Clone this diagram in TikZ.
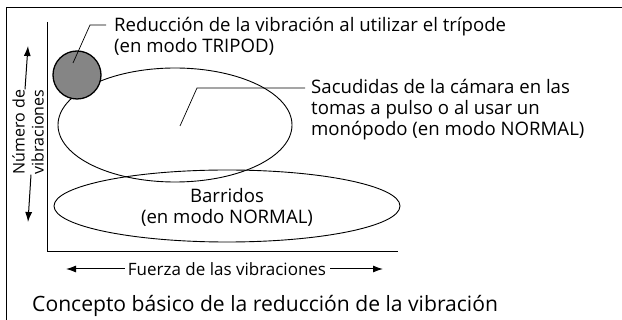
\documentclass[tikz,border=0pt]{standalone}
\usepackage{fontspec}
\setmainfont{Open Sans}
\usetikzlibrary{positioning, arrows.meta, shapes.geometric}

\begin{document}
\begin{tikzpicture}[
    x=1pt, y=-1pt,
    % text styles
    lbl/.style={font=\fontsize{18.6}{21}\selectfont, align=left, inner sep=0pt},
    caption/.style={font=\fontsize{21.1}{24}\selectfont, inner sep=0pt},
    % shapes
    zone/.style={draw, ellipse, line width=0.9pt, inner sep=0pt},
    tripodzone/.style={draw, circle, line width=1.3pt, fill=black!48, inner sep=0pt, minimum size=48pt},
    % lines
    leader/.style={line width=0.7pt},
    axis/.style={line width=0.9pt},
    axarrow/.style={-{Latex[length=10pt, width=7pt]}, line width=1pt},
]
\useasboundingbox (0,0) rectangle (622,320);

% --- frame (open to the right and bottom) ---
\draw[line width=0.9pt] (622,7) -| (6,320);

% --- axes ---
\coordinate (ytop) at (47,22);
\coordinate (origin) at (47,251);
\coordinate (xend) at (398,251);
\draw[axis] (ytop) -- (origin) -- (xend);

% --- vibration zones ---
\node[zone, minimum width=346pt, minimum height=72pt] (pan) at (227,206) {};
\node[zone, minimum width=234pt, minimum height=114pt] (handheld) at (175,125) {};
\node[tripodzone] (tripod) at (77,75) {};

% --- zone texts ---
\node[lbl, align=center] (pantext) at (227,207) {Barridos\\(en modo NORMAL)};

\node[lbl, anchor=west] (tripodtext) at (114,36)
    {Reducción de la vibración al utilizar el trípode\\(en modo TRIPOD)};
\node[lbl, anchor=west] (handtext) at (311,110)
    {Sacudidas de la cámara en las\\tomas a pulso o al usar un\\monópodo (en modo NORMAL)};

% --- leader lines ---
\coordinate (tripodpt) at (73,63);
\coordinate (tripodknee) at (90,25);
\coordinate (tripodend) at (106,25);
\draw[leader] (tripodpt) -- (tripodknee) -- (tripodend);

\coordinate (handpt) at (180,126);
\coordinate (handknee) at (197,88);
\coordinate (handend) at (305,88);
\draw[leader] (handpt) -- (handknee) -- (handend);

% --- y axis label ---
\node[lbl, font=\fontsize{16}{19}\selectfont, align=center, rotate=90] (ylabel) at (28,132) {Número de\\vibraciones};
\coordinate (yup) at (28,46);
\coordinate (ydown) at (28,222);
\draw[axarrow] ([xshift=-3pt]ylabel.east) -- (yup);
\draw[axarrow] ([xshift=3pt]ylabel.west) -- (ydown);

% --- x axis label ---
\node[lbl, font=\fontsize{17}{20}\selectfont] (xlabel) at (227,269) {Fuerza de las vibraciones};
\coordinate (xleft) at (66,269);
\coordinate (xright) at (383,269);
\draw[axarrow] ([xshift=-3pt]xlabel.west) -- (xleft);
\draw[axarrow] ([xshift=4pt]xlabel.east) -- (xright);

% --- caption ---
\node[caption, anchor=west] (title) at (32,306) {Concepto básico de la reducción de la vibración};

\end{tikzpicture}
\end{document}
